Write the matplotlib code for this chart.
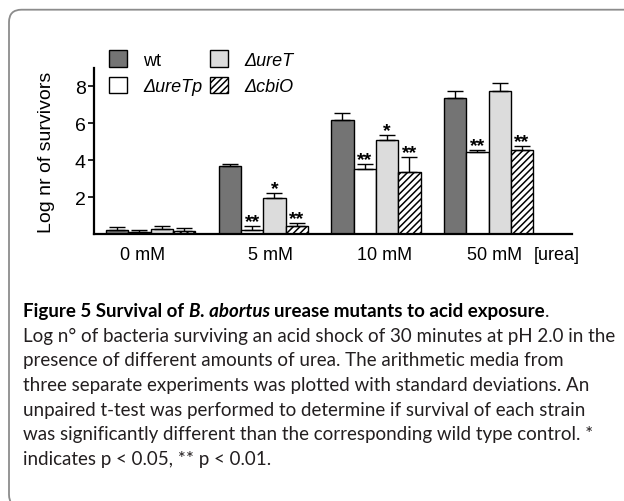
import matplotlib
matplotlib.use('Agg')
import matplotlib.pyplot as plt
from matplotlib.patches import FancyBboxPatch
from matplotlib.transforms import blended_transform_factory
import numpy as np

# ---------------- data ----------------
categories = ['0 mM', '5 mM', '10 mM', '50 mM']
strains = ['wt', 'ΔureTp', 'ΔureT', 'ΔcbiO']
wt = [0.23, 3.66, 6.16, 7.37]
wt_sd = [0.13, 0.16, 0.42, 0.40]
ureTp = [0.09, 0.23, 3.53, 4.45]
ureTp_sd = [0.12, 0.20, 0.27, 0.11]
ureT = [0.27, 1.95, 5.08, 7.77]
ureT_sd = [0.14, 0.27, 0.29, 0.39]
cbiO = [0.14, 0.41, 3.37, 4.58]
cbiO_sd = [0.18, 0.17, 0.81, 0.18]
wt_sig = ['', '', '', '']
ureTp_sig = ['', '**', '**', '**']
ureT_sig = ['', '*', '*', '']
cbiO_sig = ['', '**', '**', '**']
yticks = [2, 4, 6, 8]
unit_label = '[urea]'
ylabel = 'Log nr of survivors'

caption_title = [('Figure 5 Survival of', 'bold', 'normal'),
                 ('B. abortus', 'bold', 'italic'),
                 ('urease mutants to acid exposure', 'bold', 'normal')]
caption_lines = [
    'Log n° of bacteria surviving an acid shock of 30 minutes at pH 2.0 in the',
    'presence of different amounts of urea. The arithmetic media from',
    'three separate experiments was plotted with standard deviations. An',
    'unpaired t-test was performed to determine if survival of each strain',
    'was significantly different than the corresponding wild type control. *',
    'indicates p < 0.05, ** p < 0.01.',
]

# ---------------- style ----------------
W, H, DPI = 624, 502, 100
chart_font = ['Liberation Sans', 'DejaVu Sans']
cap_font = ['Lato', 'DejaVu Sans']
plt.rcParams['font.family'] = chart_font
plt.rcParams['hatch.linewidth'] = 1.1

series = [wt, ureTp, ureT, cbiO]
errs = [wt_sd, ureTp_sd, ureT_sd, cbiO_sd]
sigs = [wt_sig, ureTp_sig, ureT_sig, cbiO_sig]
colors = ['#747474', '#ffffff', '#dcdcdc', '#ffffff']
hatches = [None, None, None, '/////']
FS = 13

fig = plt.figure(figsize=(W / DPI, H / DPI), dpi=DPI)

def px(x0, y0, x1, y1):
    return [x0 / W, 1 - y1 / H, (x1 - x0) / W, (y1 - y0) / H]

ax = fig.add_axes(px(94, 69, 572, 235))
x = np.arange(len(categories))
bw = 0.198
handles = []
for i, (vals, sd, sg) in enumerate(zip(series, errs, sigs)):
    pos = x + (i - 1.5) * bw
    b = ax.bar(pos, vals, width=bw, color=colors[i], edgecolor='black',
               linewidth=1.0, hatch=hatches[i], zorder=2, label=strains[i])
    handles.append(b)
    ax.errorbar(pos, vals, yerr=[np.zeros(len(vals)), sd], fmt='none',
                ecolor='black', elinewidth=1.0, capsize=5.5, capthick=1.0,
                zorder=3)
    for p, v, e, s in zip(pos, vals, sd, sg):
        if s:
            ax.annotate(s, (p, v + e), xytext=(0, -3), textcoords='offset points',
                        ha='center', va='bottom', fontsize=14, fontweight='bold')

ax.set_xlim(-0.502, 3.74)
ax.set_ylim(0, 9)
ax.set_yticks(yticks)
ax.set_yticklabels([str(t) for t in yticks])
label_offsets = [-0.072, 0.06, 0.075, 0.057]
ax.set_xticks(x + np.array(label_offsets))
ax.set_xticklabels(categories)
ax.tick_params(axis='x', length=0, pad=9, labelsize=FS)
ax.tick_params(axis='y', length=4, width=1.2, pad=2, labelsize=FS + 1, direction='out')
for s in ['top', 'right']:
    ax.spines[s].set_visible(False)
ax.spines['left'].set_linewidth(1.6)
ax.spines['bottom'].set_linewidth(1.6)
ax.set_facecolor('none')
ax.set_ylabel(ylabel, fontsize=FS + 1, labelpad=14)

tr = blended_transform_factory(ax.transData, ax.transAxes)
fig.canvas.draw()
tb = ax.get_xticklabels()[0].get_window_extent()
ytop = ax.transAxes.inverted().transform((0, tb.y1))[1]
ax.text(3.607, ytop, unit_label, transform=tr, fontsize=FS, ha='center', va='top')

# legend
leg = fig.legend(handles=handles, labels=strains, ncol=2, loc='upper left',
                 bbox_to_anchor=(109 / W, 1 - 51 / H), frameon=False,
                 fontsize=FS, handlelength=1.0, handleheight=1.05,
                 handletextpad=0.9, columnspacing=0.4, labelspacing=0.45,
                 borderpad=0, borderaxespad=0)
for t in leg.get_texts():
    if t.get_text() != 'wt':
        t.set_style('italic')

# rounded frame
frame = FancyBboxPatch((9 / W, -6 / H), 700 / W, (502 - 10.7 + 6) / H,
                       boxstyle='round,pad=0,rounding_size=0.02',
                       transform=fig.transFigure, facecolor='none',
                       edgecolor='#8c8c8c', linewidth=1.3, zorder=0,
                       mutation_aspect=W / H)
fig.patches.append(frame)

# caption
fig.canvas.draw()
r = fig.canvas.get_renderer()
probe = fig.text(0, 0, caption_lines[0], fontsize=10, family=cap_font)
wprobe = probe.get_window_extent(r).width
probe.remove()
cap_size = 10 * 592 / wprobe

def twidth(s, weight='normal', style='normal'):
    t = fig.text(0, 0, s, fontsize=cap_size, family=cap_font, fontweight=weight, style=style)
    w = t.get_window_extent(r).width
    t.remove()
    return w

space_w = twidth('a a', 'bold') - twidth('aa', 'bold')

x0 = 23
y_first = 311.7
line_h = 24.6
cx = x0
for k, (s, wgt, sty) in enumerate(caption_title):
    t = fig.text(cx / W, 1 - y_first / H, s, fontsize=cap_size, family=cap_font,
                 fontweight=wgt, style=sty, va='center', ha='left', color='black')
    cx = cx + t.get_window_extent(r).width
    if k < len(caption_title) - 1:
        cx += space_w
fig.text(cx / W, 1 - y_first / H, '.', fontsize=cap_size, family=cap_font,
         va='center', ha='left', color='#231f20')
for i, line in enumerate(caption_lines):
    fig.text(x0 / W, 1 - (y_first + line_h * (i + 1)) / H, line, fontsize=cap_size,
             family=cap_font, va='center', ha='left', color='#231f20')

fig.savefig('out.png', dpi=DPI)
